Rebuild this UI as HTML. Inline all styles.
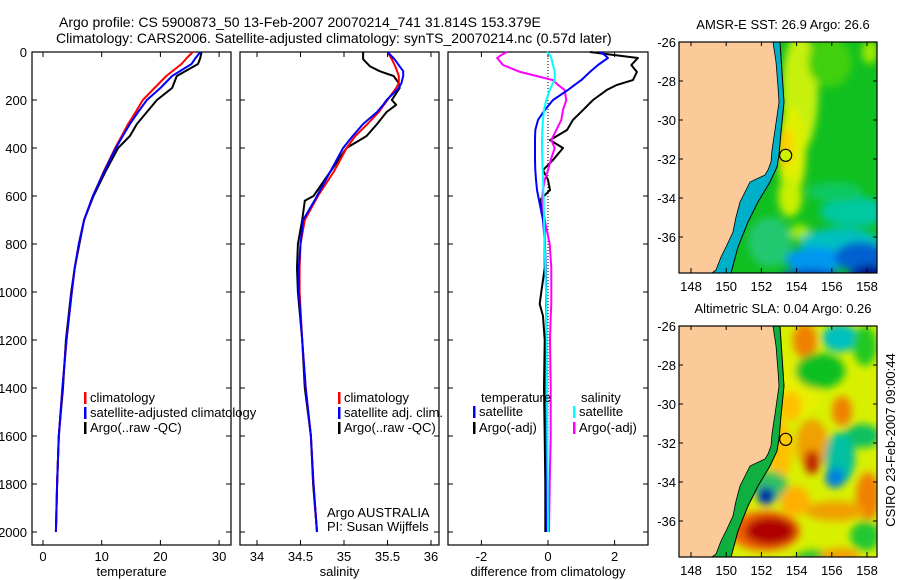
<!DOCTYPE html>
<html><head><meta charset="utf-8"><style>
body{margin:0;background:#fff;}
svg{display:block;font-family:"Liberation Sans",sans-serif;}
</style></head><body>
<svg id="fig" width="900" height="580" viewBox="0 0 900 580" xmlns="http://www.w3.org/2000/svg">
<defs>
<filter id="blur6" x="-20%" y="-20%" width="140%" height="140%"><feGaussianBlur stdDeviation="4"/></filter>
<clipPath id="clipTop"><rect x="679" y="42" width="198" height="231"/></clipPath>
<clipPath id="clipBot"><rect x="679" y="326" width="198" height="231"/></clipPath>
</defs>
<text x="59" y="27" font-size="14">Argo profile: CS 5900873_50 13-Feb-2007 20070214_741 31.814S 153.379E</text>
<text x="56" y="43" font-size="14">Climatology: CARS2006. Satellite-adjusted climatology: synTS_20070214.nc (0.57d later)</text>
<g id="panels"></g>
<g id="maps"></g>
</svg>
<script>
// ---- profile data ----
const depthsT = [0,25,50,100,150,200,250,300,350,400,500,600,700,800,900,1000,1200,1400,1600,1800,2000];
const argoT = [27,26.8,26.4,22.8,22,19.4,17.7,16,14.8,12.8,10.6,8.6,7,6.2,5.4,4.8,3.9,3.4,2.7,2.4,2.2];
const climT = [25.5,24.5,23.6,21,19,17,15.8,14.5,13.4,12.3,10.3,8.5,7,6.1,5.4,4.9,4,3.3,2.7,2.4,2.2];
const satT = [26.8,26,25.3,22,20,17.7,16.2,14.8,13.6,12.4,10.4,8.5,7,6.1,5.4,4.9,4,3.3,2.7,2.4,2.2];
const depthsS = [0,30,60,80,100,130,150,200,220,250,300,350,400,500,600,620,700,800,900,1000,1200,1400,1600,1800,2000];
const argoS = [35.22,35.22,35.3,35.41,35.57,35.63,35.64,35.55,35.6,35.49,35.38,35.26,35.03,34.84,34.65,34.55,34.52,34.47,34.46,34.47,34.52,34.55,34.62,34.645,34.69];
const satS = [35.5,35.58,35.64,35.68,35.68,35.66,35.63,35.49,35.45,35.38,35.22,35.1,34.99,34.84,34.69,34.66,34.53,34.5,34.48,34.48,34.52,34.56,34.62,34.65,34.69];
const climS = [35.5,35.55,35.59,35.61,35.63,35.63,35.6,35.5,35.46,35.4,35.27,35.13,35.03,34.88,34.7,34.67,34.55,34.5,34.49,34.49,34.52,34.56,34.62,34.65,34.69];
const depthsD = [0,12,25,54,83,117,137,158,200,242,283,325,367,400,450,492,533,575,617,700,800,900,1000,1050,1100,1200,1400,1600,1800,2000];
const argoTd = [1.26,1.95,2.7,2.5,2.67,2.55,2.07,1.77,1.35,1.05,0.75,0.57,0.06,0.45,0.15,-0.15,0,0.06,-0.24,-0.1,-0.1,-0.1,-0.2,-0.25,-0.15,-0.1,-0.12,-0.1,-0.08,-0.08];
const satTd = [1.56,1.7,1.8,1.5,1.26,1.0,0.8,0.6,0.15,-0.1,-0.3,-0.38,-0.39,-0.39,-0.39,-0.38,-0.36,-0.33,-0.27,-0.15,-0.09,-0.07,-0.06,-0.06,-0.05,-0.05,-0.05,-0.04,-0.04,-0.04];
const argoSd = [-1.23,-1.4,-1.53,-1.35,-0.84,0.15,0.3,0.5,0.55,0.45,0.4,0.25,0.1,0.2,0.08,0,-0.1,-0.15,-0.18,-0.1,0.05,0.1,0.1,0.1,0.08,0.06,0.08,0.08,0.05,0.03];
const satSd = [-0.03,0.05,0.1,0.15,0.2,0.2,0.12,0.05,-0.05,-0.12,-0.15,-0.17,-0.18,-0.18,-0.17,-0.16,-0.15,-0.14,-0.13,-0.12,-0.1,-0.08,-0.06,-0.05,-0.05,-0.04,-0.03,-0.02,-0.01,0];
const depthTicks = [0,200,400,600,800,1000,1200,1400,1600,1800,2000];
const tempTicks = [0,10,20,30];
const salTicks = [34,34.5,35,35.5,36];
const salTickLabels = ["34","34.5","35","35.5","36"];
const diffTicks = [-2,0,2];
const lonTicks = [148,150,152,154,156,158];
const latTicks = [-26,-28,-30,-32,-34,-36];

const NS = "http://www.w3.org/2000/svg";
function el(tag, attrs, parent){const e=document.createElementNS(NS,tag);for(const k in attrs)e.setAttribute(k,attrs[k]);parent.appendChild(e);return e;}
const panels = document.getElementById('panels');
const yD = d => 52 + d*0.24;
const boxTop = 52, boxBot = 545;

function panel(name, x0, x1, xScale, ticks, labels, xlabel, showDepth){
  const g = el('g',{},panels);
  
  
  const r = el('rect',{x:x0,y:boxTop,width:x1-x0,height:boxBot-boxTop,fill:'none',stroke:'#000','stroke-width':1.2},g);
  
  
  ticks.forEach((t,i)=>{
    const x = xScale(t);
    el('line',{x1:x,x2:x,y1:boxBot,y2:boxBot-5,stroke:'#000'},g);
    el('line',{x1:x,x2:x,y1:boxTop,y2:boxTop+5,stroke:'#000'},g);
    const tx = el('text',{x:x,y:561,'font-size':13,'text-anchor':'middle'},g);
    tx.textContent = labels[i];
    
    
  });
  depthTicks.forEach(d=>{
    const y = yD(d);
    el('line',{x1:x0,x2:x0+5,y1:y,y2:y,stroke:'#000'},g);
    el('line',{x1:x1,x2:x1-5,y1:y,y2:y,stroke:'#000'},g);
    if(showDepth){
      const tx = el('text',{x:27,y:y+5,'font-size':13,'text-anchor':'end'},g);
      tx.textContent = d;
      
      
    }
  });
  const xl = el('text',{x:(x0+x1)/2,y:576,'font-size':13,'text-anchor':'middle'},g);
  xl.textContent = xlabel;
  
  
  return g;
}
function series(g, name, depths, vals, xScale, color, w){
  const pts = depths.map((d,i)=>xScale(vals[i]).toFixed(1)+','+yD(d).toFixed(1)).join(' ');
  const p = el('polyline',{points:pts,fill:'none',stroke:color,'stroke-width':w||2,'stroke-linejoin':'round'},g);
  
  
}
function legend(g, x, y, color, label, name){
  if(color){ el('rect',{x:x,y:y-10,width:2.5,height:12,fill:color},g); }
  const t = el('text',{x:x+6,y:y,'font-size':13},g);
  t.textContent = label;
  
  
}

const xT = t => 43 + t*5.87;
const g1 = panel('temperature-panel',32,231,xT,tempTicks,tempTicks.map(String),'temperature',true);
series(g1,'argo-temperature-line',depthsT,argoT,xT,'#000');
series(g1,'climatology-temperature-line',depthsT,climT,xT,'#f00');
series(g1,'satellite-temperature-line',depthsT,satT,xT,'#00f');
legend(g1,84,402,'#f00','climatology','legend-climatology');
legend(g1,84,417,'#00f','satellite-adjusted climatology','legend-satellite');
legend(g1,84,432,'#000','Argo(..raw -QC)','legend-argo');

const xS = s => 257 + (s-34)*87;
const g2 = panel('salinity-panel',240,439,xS,salTicks,salTickLabels,'salinity',false);
series(g2,'argo-salinity-line',depthsS,argoS,xS,'#000');
series(g2,'climatology-salinity-line',depthsS,climS,xS,'#f00');
series(g2,'satellite-salinity-line',depthsS,satS,xS,'#00f');
legend(g2,338,402,'#f00','climatology','legend-climatology');
legend(g2,338,417,'#00f','satellite adj. clim.','legend-satellite');
legend(g2,338,432,'#000','Argo(..raw -QC)','legend-argo');
legend(g2,321,517,null,'Argo AUSTRALIA','credit-argo-australia');
legend(g2,321,531,null,'PI: Susan Wijffels','credit-pi');

const xDf = v => 548 + v*33.3;
const g3 = panel('difference-panel',448,648,xDf,diffTicks,diffTicks.map(String),'difference from climatology',false);
el('line',{x1:xDf(0),x2:xDf(0),y1:boxTop,y2:yD(2000),stroke:'#000','stroke-dasharray':'1,2'},g3);
series(g3,'argo-temperature-diff-line',depthsD,argoTd,xDf,'#000');
series(g3,'argo-salinity-diff-line',depthsD,argoSd,xDf,'#f0f');
series(g3,'satellite-temperature-diff-line',depthsD,satTd,xDf,'#00f');
series(g3,'satellite-salinity-diff-line',depthsD,satSd,xDf,'#0ff');
legend(g3,475,402,null,'temperature','legend-temperature-heading');
legend(g3,473,416,'#00f','satellite','legend-temp-satellite');
legend(g3,473,432,'#000','Argo(-adj)','legend-temp-argo');
legend(g3,575,402,null,'salinity','legend-salinity-heading');
legend(g3,573,416,'#0ff','satellite','legend-sal-satellite');
legend(g3,573,432,'#f0f','Argo(-adj)','legend-sal-argo');

// ---- maps ----
const maps = document.getElementById('maps');
const lonX = lon => 691 + (lon-148)*17.6;
const coast = [[773,0],[776,20],[778,45],[779,60],[775,88],[772,108],[771,120],[768,128],[765,133],[750,140],[745,150],[740,160],[736,175],[733,190],[726,205],[721,215],[716,228],[712,231]];
const isobath = [[780,0],[782,30],[784,60],[781,90],[779,113],[777,125],[770,140],[758,160],[748,180],[738,205],[731,231]];
function drawMap(name, y0, title, bg, blobs, markerFill, shelf){
  const g = el('g',{},maps);
  
  
  const latY = lat => y0 + (-26-lat)*19.5;
  const t = el('text',{x:783,y:y0-13,'font-size':13,'text-anchor':'middle'},g);
  t.textContent = title;
  
  
  const cg = el('g',{'clip-path':'url(#clip'+(y0<100?'Top':'Bot')+')'},g);
  el('rect',{x:679,y:y0,width:198,height:231,fill:bg},cg);
  const bg2 = el('g',{filter:'url(#blur6)'},cg);
  blobs.forEach(b=>{ el('ellipse',{cx:b[0],cy:y0+b[1],rx:b[2],ry:b[3],fill:b[4]},bg2); });
  const sh = 'M'+isobath.map(p=>p[0]+','+(y0+p[1])).join(' L')+' L679,'+(y0+231)+' L679,'+y0+' Z';
  el('path',{d:sh,fill:shelf},cg);
  const land = 'M679,'+y0+' '+coast.map(p=>'L'+p[0]+','+(y0+p[1])).join(' ')+' L679,'+(y0+231)+' Z';
  const lp = el('path',{d:land,fill:'#fcca98',stroke:'#000','stroke-width':0.8},cg);
  
  
  el('polyline',{points:isobath.map(p=>p[0]+','+(y0+p[1])).join(' '),fill:'none',stroke:'#000','stroke-width':1},cg);
  const m = el('circle',{cx:lonX(153.38),cy:latY(-31.81),r:6,fill:markerFill,stroke:'#000','stroke-width':1.2},g);
  
  
  el('rect',{x:679,y:y0,width:198,height:231,fill:'none',stroke:'#000','stroke-width':1.2},g);
  lonTicks.forEach(lon=>{
    const x = lonX(lon);
    el('line',{x1:x,x2:x,y1:y0+231,y2:y0+226,stroke:'#000'},g);
    el('line',{x1:x,x2:x,y1:y0,y2:y0+4,stroke:'#000'},g);
    const tx = el('text',{x:x,y:y0+249,'font-size':13,'text-anchor':'middle'},g);
    tx.textContent = lon;
    
    
  });
  latTicks.forEach(lat=>{
    const y = latY(lat);
    el('line',{x1:679,x2:683,y1:y,y2:y,stroke:'#000'},g);
    el('line',{x1:877,x2:873,y1:y,y2:y,stroke:'#000'},g);
    const tx = el('text',{x:676,y:y+5,'font-size':13,'text-anchor':'end'},g);
    tx.textContent = lat;
    
    
  });
}
drawMap('sst-map',42,'AMSR-E SST: 26.9 Argo: 26.6','#10c020',[
  [800,50,18,60,'#c8f010'],[792,110,14,45,'#e0f000'],[785,105,8,20,'#ffd000'],[790,155,12,20,'#c8f000'],
  [800,190,10,8,'#a0e800'],[830,20,22,25,'#40d010'],[870,10,8,12,'#a0e800'],
  [855,170,35,15,'#00c8a0'],[840,200,40,14,'#00c0c0'],[770,200,22,25,'#20c870'],
  [815,218,30,13,'#0098f0'],[860,215,25,15,'#0060d0'],[870,245,25,22,'#001890'],
  [810,237,32,10,'#0050c8'],[810,240,15,6,'#000a80'],[835,150,28,10,'#10c860']
],'#d0f000','#00b0c8');
drawMap('sla-map',326,'Altimetric SLA: 0.04 Argo: 0.26','#d8f000',[
  [800,60,20,30,'#e8f000'],[805,15,12,18,'#f08000'],[840,12,18,14,'#00c0c0'],[820,45,25,18,'#10c020'],[865,20,12,20,'#20c820'],
  [790,80,12,15,'#ffc000'],[812,118,16,25,'#f0a000'],[812,136,8,12,'#c02000'],[842,85,10,15,'#f08000'],
  [862,110,18,12,'#10c060'],[840,132,15,26,'#00c0a0'],[835,152,10,10,'#0080e0'],[868,170,12,24,'#f08000'],
  [780,125,12,30,'#ffc000'],[770,160,18,15,'#30c060'],[766,170,9,9,'#0040c0'],[766,168,5,5,'#001090'],
  [765,205,35,20,'#f06000'],[770,205,25,14,'#b00000'],[835,185,30,10,'#f0a000'],
  [815,232,20,8,'#30c030'],[840,230,20,8,'#f0a000'],[865,210,15,15,'#20c830'],[795,175,15,15,'#ffb000']
],'#ffc800','#10b040');
const side = el('text',{x:0,y:0,'font-size':13,'text-anchor':'middle',transform:'translate(895,440) rotate(-90)'},maps);
side.textContent = 'CSIRO 23-Feb-2007 09:00:44';


</script>
</body></html>
